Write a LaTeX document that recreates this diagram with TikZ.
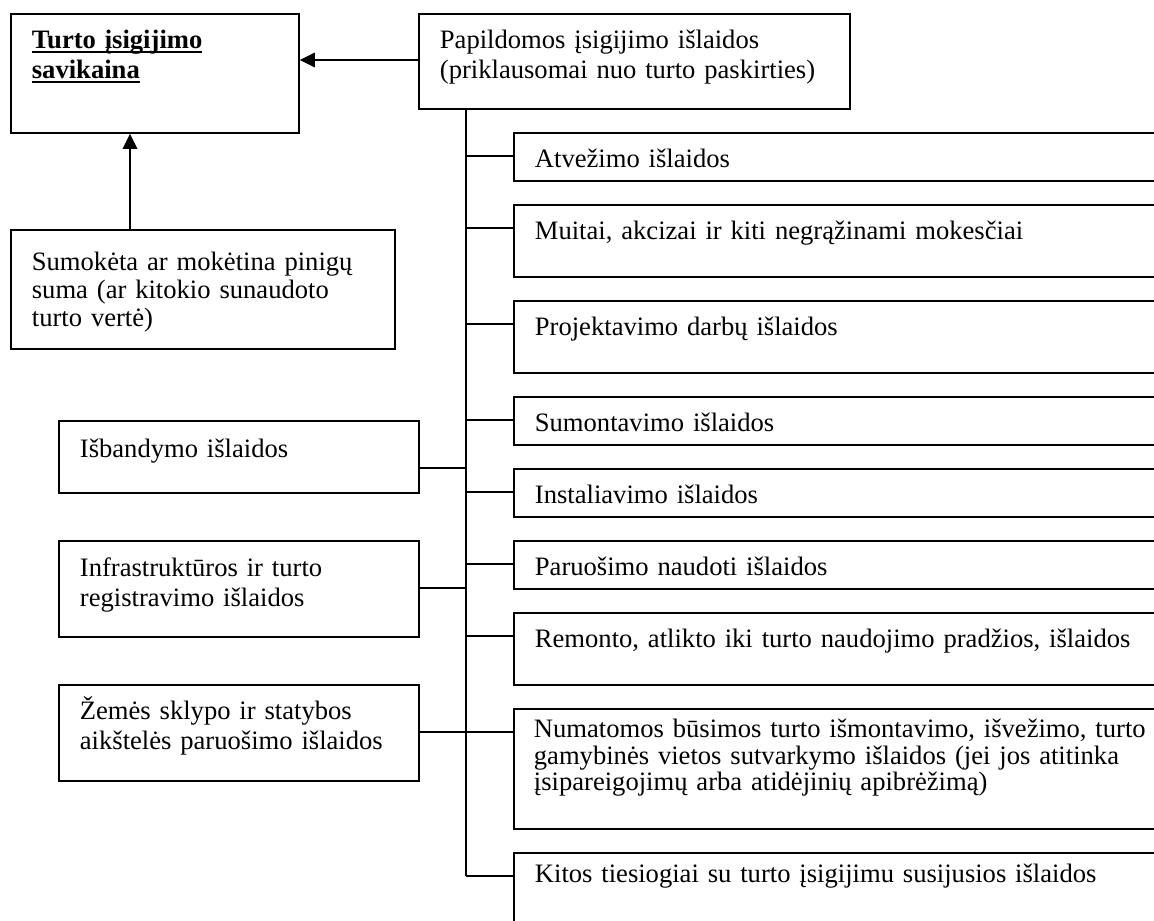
\documentclass[tikz,border=0pt]{standalone}
\usepackage{fontspec}
\setmainfont{Liberation Serif}
\usetikzlibrary{arrows.meta,calc}
\newcommand\myul[1]{\leavevmode\setbox0\hbox{#1}\rlap{\rule[-4.5pt]{\wd0}{2.2pt}}\box0}
\begin{document}
\begin{tikzpicture}[x=1pt,y=-1pt,
  every node/.style={font=\fontsize{26.6pt}{30pt}\selectfont},
  box/.style={draw, line width=1.8pt, anchor=north west, align=left,
    inner xsep=21pt, inner ysep=0pt, text height=35pt},
  link/.style={line width=1.8pt},
  arr/.style={line width=2.8pt, -{Triangle[length=15pt,width=14pt]}}]
\useasboundingbox (0,0) rectangle (1154,921);
\clip (0,0) rectangle (1154,921);

% top boxes
\node[box, text width=246pt, text depth=84pt] (cost) at (10,13)
  {\bfseries\myul{Turto įsigijimo}\\\myul{savikaina}};
\node[box, text width=389pt, text depth=60pt] (add) at (418,13)
  {Papildomos įsigijimo išlaidos\\(priklausomai nuo turto paskirties)};
\node[box, text width=342pt, text height=41pt, text depth=78pt,
  font=\fontsize{26.6pt}{28pt}\selectfont] (paid) at (10,229)
  {Sumokėta ar mokėtina pinigų\\suma (ar kitokio sunaudoto\\turto vertė)};

% left boxes
\node[box, text width=318pt, text height=37pt, text depth=35pt] (test) at (58,420)
  {Išbandymo išlaidos};
\node[box, text width=318pt, text height=36pt, text depth=60pt] (infra) at (58,540)
  {Infrastruktūros ir turto\\registravimo išlaidos};
\node[box, text width=318pt, text depth=61pt] (land) at (58,684)
  {Žemės sklypo ir statybos\\aikštelės paruošimo išlaidos};

% right boxes
\node[box, text width=658pt, text depth=13pt] (r1) at (513,132) {Atvežimo išlaidos};
\node[box, text width=658pt, text depth=37pt] (r2) at (513,204) {Muitai, akcizai ir kiti negrąžinami mokesčiai};
\node[box, text width=658pt, text depth=37pt] (r3) at (513,300) {Projektavimo darbų išlaidos};
\node[box, text width=658pt, text depth=13pt] (r4) at (513,396) {Sumontavimo išlaidos};
\node[box, text width=658pt, text depth=13pt] (r5) at (513,468) {Instaliavimo išlaidos};
\node[box, text width=658pt, text depth=13pt] (r6) at (513,540) {Paruošimo naudoti išlaidos};
\node[box, text width=658pt, text depth=37pt] (r7) at (513,612) {Remonto, atlikto iki turto naudojimo pradžios, išlaidos};
\node[box, text width=658pt, text height=29pt, text depth=91pt,
  font=\fontsize{26.6pt}{26.5pt}\selectfont, inner xsep=20pt] (r8) at (513,708)
  {Numatomos būsimos turto išmontavimo, išvežimo, turto\\gamybinės vietos sutvarkymo išlaidos (jei jos atitinka\\įsipareigojimų arba atidėjinių apibrėžimą)};
\node[box, text width=658pt, text height=30pt, text depth=90pt] (r9) at (513,852) {Kitos tiesiogiai su turto įsigijimu susijusios išlaidos};

% spine
\coordinate (top) at ($(add.south west)+(48,0)$);
\coordinate (bot) at ($(r9.north west)+(-47,24)$);
\draw[link] (top) -- (bot);

% right connectors
\foreach \n in {r1,r2,r3,r4,r5,r6,r7,r8,r9}{
  \draw[link] ($(\n.north west)+(0,24)$) coordinate (c) -- (c -| top);
}
% left connectors
\foreach \n in {test,infra,land}{
  \draw[link] ($(\n.north east)+(0,48)$) coordinate (c) -- (c -| top);
}

% arrows
\draw[arr] ($(add.north west)+(0,47)$) coordinate (a1) -- (a1 -| cost.east);
\draw[arr] ($(paid.north west)+(120,0)$) coordinate (a2) -- (a2 |- cost.south);
\end{tikzpicture}
\end{document}
